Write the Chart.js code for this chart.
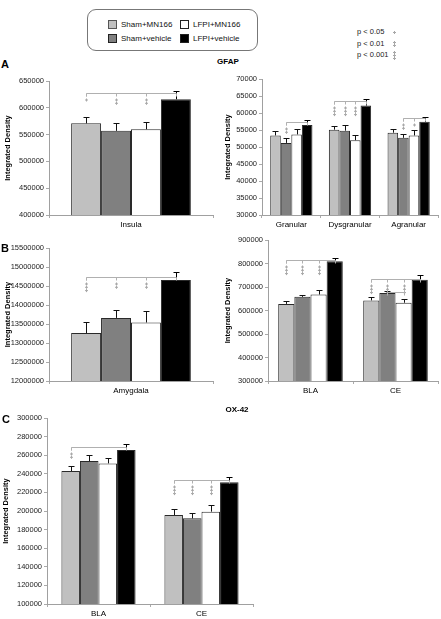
<!DOCTYPE html>
<html><head><meta charset="utf-8">
<script src="https://cdn.jsdelivr.net/npm/chart.js@4/dist/chart.umd.min.js"></script>
<style>
body{margin:0;background:#fff;width:441px;height:619px;position:relative;overflow:hidden;font-family:"Liberation Sans",Arial,sans-serif;}
canvas{position:absolute;}
.t{position:absolute;white-space:nowrap;color:#000;}
.sw{position:absolute;width:7px;height:7px;border:1px solid #333;}
</style></head><body>

<script>
// ---------- DATA ----------
const groups = ['Sham+MN166','Sham+vehicle','LFPI+MN166','LFPI+vehicle'];
const groupColors = ['#c0c0c0','#808080','#ffffff','#000000'];

// A left: GFAP insula
const insulaCats = ['Insula'];
const insulaShamMN = [571000], insulaShamVeh = [557000], insulaLfpiMN = [560000], insulaLfpiVeh = [616000];
const insulaErrShamMN = [12500], insulaErrShamVeh = [14000], insulaErrLfpiMN = [13500], insulaErrLfpiVeh = [16000];
const insulaTicks = [400000,450000,500000,550000,600000,650000];

// A right: GFAP cortical layers
const cortexCats = ['Granular','Dysgranular','Agranular'];
const cortexShamMN = [53400,55100,54200], cortexShamVeh = [51200,54800,52700];
const cortexLfpiMN = [53700,52000,53400], cortexLfpiVeh = [56500,62200,57400];
const cortexErrShamMN = [1400,1200,1100], cortexErrShamVeh = [1400,1600,1200];
const cortexErrLfpiMN = [1500,1400,1700], cortexErrLfpiVeh = [1300,1800,1400];
const cortexTicks = [30000,35000,40000,45000,50000,55000,60000,65000,70000];

// B left: GFAP amygdala
const amyCats = ['Amygdala'];
const amyShamMN = [13260000], amyShamVeh = [13660000], amyLfpiMN = [13540000], amyLfpiVeh = [14660000];
const amyErrShamMN = [280000], amyErrShamVeh = [200000], amyErrLfpiMN = [300000], amyErrLfpiVeh = [220000];
const amyTicks = [12000000,12500000,13000000,13500000,14000000,14500000,15000000,15500000];

// B right: GFAP BLA / CE
const gNucCats = ['BLA','CE'];
const gNucShamMN = [628000,643000], gNucShamVeh = [658000,674000];
const gNucLfpiMN = [668000,633000], gNucLfpiVeh = [810000,731000];
const gNucErrShamMN = [14000,13000], gNucErrShamVeh = [9000,9000];
const gNucErrLfpiMN = [18000,15000], gNucErrLfpiVeh = [15000,18000];
const gNucTicks = [300000,400000,500000,600000,700000,800000,900000];

// C: OX-42 BLA / CE
const oxCats = ['BLA','CE'];
const oxShamMN = [243000,195700], oxShamVeh = [253700,192100];
const oxLfpiMN = [251200,199300], oxLfpiVeh = [265500,230900];
const oxErrShamMN = [5400,6500], oxErrShamVeh = [6300,5700];
const oxErrLfpiMN = [5800,6700], oxErrLfpiVeh = [6500,5400];
const oxTicks = [100000,120000,140000,160000,180000,200000,220000,240000,260000,280000,300000];

// significance brackets: category, from group, to group, level, marks [group, stars]
const insulaSig = [{cat:0,from:0,to:3,y:627000,marks:[[0,1],[1,2],[2,2]]}];
const cortexSig = [
  {cat:0,from:1,to:3,y:57300,marks:[[1,2]]},
  {cat:1,from:0,to:3,y:63500,marks:[[0,3],[1,3],[2,3]]},
  {cat:2,from:1,to:3,y:58400,marks:[[1,2],[2,1]]}
];
const amySig = [{cat:0,from:0,to:3,y:14750000,marks:[[0,3],[1,2],[2,2]]}];
const gNucSig = [
  {cat:0,from:0,to:3,y:815000,marks:[[0,3],[1,3],[2,3]]},
  {cat:1,from:0,to:3,y:735000,marks:[[0,3],[1,3],[2,3]]},
  {cat:1,from:1,to:2,y:677000,marks:[]}
];
const oxSig = [
  {cat:0,from:0,to:3,y:269000,marks:[[0,2]]},
  {cat:1,from:0,to:3,y:233300,marks:[[0,3],[1,3],[2,3]]}
];
// ---------- END DATA ----------

const FONT = '"Liberation Sans", Arial, sans-serif';

const errorBars = {
  id:'errorBars',
  afterDatasetsDraw(chart){
    const ctx = chart.ctx, ys = chart.scales.y;
    chart.data.datasets.forEach((ds,i)=>{
      const meta = chart.getDatasetMeta(i);
      meta.data.forEach((bar,j)=>{
        const v = ds.data[j], e = ds.errors[j];
        const x = Math.round(bar.x)+0.5;
        const y0 = ys.getPixelForValue(v), y1 = Math.round(ys.getPixelForValue(v+e))+0.5;
        ctx.save();
        ctx.strokeStyle = ds.backgroundColor === '#000000' ? '#000' : '#111';
        ctx.lineWidth = 1;
        ctx.beginPath();
        ctx.moveTo(x,y0); ctx.lineTo(x,y1);
        ctx.moveTo(x-3,y1); ctx.lineTo(x+3,y1);
        ctx.stroke();
        ctx.restore();
      });
    });
  }
};

function sigPlugin(brackets){
  return {
    id:'sig',
    afterDatasetsDraw(chart){
      const ctx = chart.ctx, ys = chart.scales.y;
      const bx = (g,c)=>Math.round(chart.getDatasetMeta(g).data[c].x)+0.5;
      ctx.save();
      ctx.strokeStyle = '#b0b0b0';
      ctx.lineWidth = 1;
      brackets.forEach(b=>{
        const yb = Math.round(ys.getPixelForValue(b.y))+0.5;
        const x0 = bx(b.from,b.cat), x1 = bx(b.to,b.cat);
        ctx.beginPath();
        ctx.moveTo(x0,yb); ctx.lineTo(x1,yb);
        ctx.moveTo(x0,yb); ctx.lineTo(x0,yb+3);
        ctx.moveTo(x1,yb); ctx.lineTo(x1,yb+3);
        b.marks.forEach(([g])=>{ const x=bx(g,b.cat); ctx.moveTo(x,yb); ctx.lineTo(x,yb+3); });
        ctx.stroke();
        ctx.fillStyle = '#a8a8a8';
        b.marks.forEach(([g,n])=>{
          const x = bx(g,b.cat)-0.5;
          for(let k=0;k<n;k++){
            const yy = yb+6+k*3.3;
            ctx.fillRect(x-1,yy,3,1);
            ctx.fillRect(x,yy-1,1,3);
          }
        });
      });
      ctx.restore();
    }
  };
}

function makeChart(box, cats, series, errs, ticks, brackets, dims){
  const cv = document.createElement('canvas');
  cv.width = box.w; cv.height = box.h;
  cv.style.left = box.x+'px'; cv.style.top = box.y+'px';
  cv.style.width = box.w+'px'; cv.style.height = box.h+'px';
  document.body.appendChild(cv);
  new Chart(cv, {
    type:'bar',
    data:{
      labels: cats,
      datasets: series.map((s,i)=>({
        label: groups[i], data: s, errors: errs[i],
        backgroundColor: groupColors[i], borderColor:'#2a2a2a', borderWidth:1,
        categoryPercentage: dims.cp, barPercentage: 1
      }))
    },
    options:{
      responsive:false, devicePixelRatio:1, animation:false,
      layout:{padding:{top:dims.pt,right:dims.pr,left:0,bottom:0}},
      plugins:{legend:{display:false}, tooltip:{enabled:false}},
      scales:{
        x:{
          grid:{display:true, drawOnChartArea:false, color:'#aaa', tickLength:3, offset:true},
          border:{display:true,color:'#a0a0a0'},
          ticks:{color:'#000', font:{family:FONT,size:8}, padding:2, maxRotation:0},
          afterFit(s){ s.height = dims.xh; }
        },
        y:{
          min: ticks[0], max: ticks[ticks.length-1],
          afterBuildTicks(s){ s.ticks = ticks.map(v=>({value:v})); },
          grid:{display:true, drawOnChartArea:false, color:'#aaa', tickLength:3},
          border:{display:true,color:'#a0a0a0'},
          ticks:{color:'#222', font:{family:FONT,size:7.5}, padding:2, callback:v=>String(v)},
          title:{display:true, text:'Integrated Density', color:'#000', font:{family:FONT,size:7.5,weight:'bold'}, padding:{top:dims.tp,bottom:0}},
          afterFit(s){ s.width = dims.yw; }
        }
      }
    },
    plugins:[errorBars, sigPlugin(brackets)]
  });
}

// A left
makeChart({x:0,y:71,w:216,h:162}, insulaCats,
  [insulaShamMN,insulaShamVeh,insulaLfpiMN,insulaLfpiVeh],
  [insulaErrShamMN,insulaErrShamVeh,insulaErrLfpiMN,insulaErrLfpiVeh],
  insulaTicks, insulaSig, {pt:10,pr:3,xh:18,yw:49,tp:3.5,cp:0.73});
// A right
makeChart({x:220,y:69,w:221,h:164}, cortexCats,
  [cortexShamMN,cortexShamVeh,cortexLfpiMN,cortexLfpiVeh],
  [cortexErrShamMN,cortexErrShamVeh,cortexErrLfpiMN,cortexErrLfpiVeh],
  cortexTicks, cortexSig, {pt:10,pr:3,xh:18,yw:42,tp:3.5,cp:0.72});
// B left
makeChart({x:0,y:238,w:216,h:161}, amyCats,
  [amyShamMN,amyShamVeh,amyLfpiMN,amyLfpiVeh],
  [amyErrShamMN,amyErrShamVeh,amyErrLfpiMN,amyErrLfpiVeh],
  amyTicks, amySig, {pt:10,pr:3,xh:18,yw:49,tp:3.5,cp:0.73});
// B right
makeChart({x:220,y:230,w:221,h:169}, gNucCats,
  [gNucShamMN,gNucShamVeh,gNucLfpiMN,gNucLfpiVeh],
  [gNucErrShamMN,gNucErrShamVeh,gNucErrLfpiMN,gNucErrLfpiVeh],
  gNucTicks, gNucSig, {pt:10,pr:3,xh:18,yw:48,tp:3.5,cp:0.76});
// C
makeChart({x:0,y:408,w:256,h:211}, oxCats,
  [oxShamMN,oxShamVeh,oxLfpiMN,oxLfpiVeh],
  [oxErrShamMN,oxErrShamVeh,oxErrLfpiMN,oxErrLfpiVeh],
  oxTicks, oxSig, {pt:10,pr:3,xh:15,yw:47,tp:1.5,cp:0.72});

// ---------- text & legend ----------
function txt(s,x,y,size,opts={}){
  const d=document.createElement('div'); d.className='t'; d.textContent=s;
  d.style.fontSize=size+'px'; d.style.lineHeight=size+'px';
  d.style.top=(y-size/2)+'px';
  if(opts.center){ d.style.left=x+'px'; d.style.transform='translateX(-50%)'; } else d.style.left=x+'px';
  if(opts.bold) d.style.fontWeight='bold';
  if(opts.color) d.style.color=opts.color;
  document.body.appendChild(d); return d;
}
txt('A',1,64,11,{bold:true});
txt('B',1,248,11,{bold:true});
txt('C',2,419,11,{bold:true});
txt('GFAP',228,62,8,{bold:true,center:true});
txt('OX-42',237,410,8,{bold:true,center:true});

const lb=document.createElement('div');
Object.assign(lb.style,{position:'absolute',left:'87px',top:'9px',width:'169px',height:'40px',border:'1px solid #777',borderRadius:'9px'});
document.body.appendChild(lb);
const legPos=[[108,20],[108,34],[180,20],[180,34]];
const legOrder=[0,1,2,3];
legOrder.forEach((g,k)=>{
  const [x,y]=legPos[k];
  const s=document.createElement('div'); s.className='sw';
  s.style.left=x+'px'; s.style.top=y+'px'; s.style.background=groupColors[g];
  s.style.borderColor = g===0 ? '#555' : '#222';
  document.body.appendChild(s);
  txt(groups[g], x+13, y+4.5, 8, {color:'#111'});
});

const pLabels=['p < 0.05','p < 0.01','p < 0.001'];
const pStars=[1,2,3];
const pY=[32,43.5,55];
pLabels.forEach((l,i)=>txt(l,357,pY[i],7.5,{color:'#222'}));
const pc=document.createElement('canvas'); pc.width=10; pc.height=40;
Object.assign(pc.style,{left:'390px',top:'26px',width:'10px',height:'40px'});
document.body.appendChild(pc);
const pctx=pc.getContext('2d'); pctx.fillStyle='#a8a8a8';
pStars.forEach((n,i)=>{
  const y0=pY[i]-26 - (n-1)*1.6;
  for(let k=0;k<n;k++){ const yy=Math.round(y0+k*3.3); pctx.fillRect(3,yy,3,1); pctx.fillRect(4,yy-1,1,3); }
});
</script>
</body></html>
